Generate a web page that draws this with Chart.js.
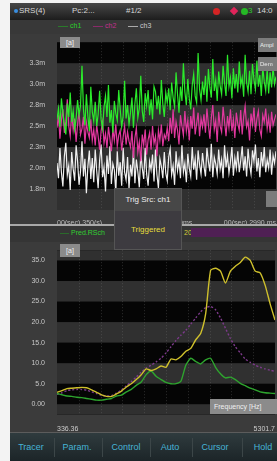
<!DOCTYPE html>
<html>
<head>
<meta charset="utf-8">
<script src="https://cdn.jsdelivr.net/npm/chart.js@4.4.1/dist/chart.umd.min.js"></script>
<style>
body{margin:0;width:277px;height:461px;overflow:hidden;background:#f3f3f3;font-family:"Liberation Sans",Arial,sans-serif;position:relative;}
.abs{position:absolute;}
#status{left:10px;top:3px;width:267px;height:17px;background:linear-gradient(#474747,#1d1d1d);}
#status span{position:absolute;top:3px;font-size:8px;color:#d8d8d8;white-space:nowrap;}
#leg1{left:10px;top:20px;width:267px;height:14px;background:#383838;}
#leg1 span,#leg2 span{position:absolute;font-size:7px;white-space:nowrap;}
#top{left:10px;top:34px;width:267px;height:190px;background:#3b3b3b;}
#sep{left:10px;top:224px;width:267px;height:2px;background:#a9a9a9;}
#leg2{left:10px;top:226px;width:267px;height:16px;background:#353535;}
#bottom{left:10px;top:242px;width:267px;height:190px;background:#3b3b3b;}
#nav{left:10px;top:432px;width:267px;height:29px;background:linear-gradient(#2f3b3e,#1c2528);border-top:1px solid #5c5c5c;box-sizing:border-box;}
#nav span{position:absolute;top:9px;font-size:9px;color:#46b4d6;transform:translateX(-50%);white-space:nowrap;}
#nav i{position:absolute;top:5px;width:1px;height:19px;background:#3c4648;}
.tag{background:#8b8b8b;color:#f0f0f0;font-size:7px;text-align:center;line-height:11px;}
.btn{background:#7c7c7c;color:#eee;font-size:6px;text-align:left;padding-left:2px;box-sizing:border-box;overflow:hidden;white-space:nowrap;}
#popup{left:114px;top:188px;width:68px;height:62px;background:#3d3b40;border:1px solid #555;box-sizing:border-box;}
#popup .a{position:absolute;left:0;top:0;width:66px;height:22px;background:#474747;color:#eee;font-size:8px;line-height:22px;text-align:center;}
#popup .b{position:absolute;left:0;top:36px;width:66px;color:#e6df3c;font-size:8px;text-align:center;}
</style>
</head>
<body>
<div class="abs" id="status">
  <i class="abs" style="left:4px;top:6px;width:4px;height:4px;border-radius:2px;background:#3a8ee0"></i>
  <span style="left:9px">SRS(4)</span>
  <span style="left:62px">Pc:2...</span>
  <span style="left:116px">#1/2</span>
  <i class="abs" style="left:203px;top:5px;width:7px;height:7px;border-radius:4px;background:#d42424"></i>
  <i class="abs" style="left:221px;top:5px;width:6px;height:6px;transform:rotate(45deg);background:#e0245a"></i>
  <i class="abs" style="left:231px;top:5px;width:7px;height:7px;border-radius:4px;background:#25b825"></i>
  <span style="left:238px;color:#2ccc2c">3</span>
  <span style="left:247px">14:0</span>
</div>
<div class="abs" id="leg1">
  <i class="abs" style="left:48px;top:6px;width:10px;height:1px;background:#2a7a2a"></i>
  <span style="left:60px;top:2px;color:#2ad42a">ch1</span>
  <i class="abs" style="left:83px;top:6px;width:10px;height:1px;background:#8a2a6a"></i>
  <span style="left:95px;top:2px;color:#c42f8e">ch2</span>
  <i class="abs" style="left:118px;top:6px;width:10px;height:1px;background:#aaa"></i>
  <span style="left:130px;top:2px;color:#ccc">ch3</span>
</div>
<div class="abs" id="top"><canvas id="c1"></canvas></div>
<div class="abs" id="sep"></div>
<div class="abs" id="leg2">
  <i class="abs" style="left:50px;top:7px;width:9px;height:1px;background:#2a6a2a"></i>
  <span style="left:61px;top:3px;color:#31cf31">Pred.RSch</span>
  <span style="left:174px;top:3px;color:#d6cc3a">20</span>
  <i class="abs" style="left:181px;top:2px;width:86px;height:9px;background:#4f2054"></i>
</div>
<div class="abs" id="bottom"><canvas id="c2"></canvas></div>
<div class="abs tag" style="left:60px;top:37px;width:20px;height:11px">[a]</div>
<div class="abs btn" style="left:258px;top:38px;width:19px;height:14px;line-height:14px">Ampl</div>
<div class="abs btn" style="left:258px;top:57px;width:19px;height:14px;line-height:14px">Dem</div>
<div class="abs btn" style="left:266px;top:191px;width:11px;height:16px"></div>
<div class="abs tag" style="left:60px;top:244px;width:20px;height:13px;line-height:13px">[a]</div>
<div class="abs tag" style="left:210px;top:399px;width:67px;height:15px;line-height:15px;text-align:left;padding-left:4px;box-sizing:border-box">Frequency [Hz]</div>
<div class="abs" id="popup"><div class="a">Trig Src: ch1</div><div class="b">Triggered</div></div>
<div class="abs" id="nav">
  <span style="left:21px">Tracer</span><i style="left:44px"></i>
  <span style="left:67px">Param.</span><i style="left:92px"></i>
  <span style="left:116px">Control</span><i style="left:140px"></i>
  <span style="left:160px">Auto</span><i style="left:182px"></i>
  <span style="left:205px">Cursor</span><i style="left:232px"></i>
  <span style="left:253px">Hold</span>
</div>
<script>
// top trace: three channels (mV)
const ch1 = [2.58,2.71,2.49,2.83,2.66,2.52,2.40,2.77,2.61,2.90,2.55,2.68,2.46,2.59,2.81,2.63,2.74,3.22,2.70,2.51,2.88,2.62,2.44,2.97,2.67,
  2.56,2.79,2.50,2.64,2.92,2.58,2.47,2.73,2.86,2.61,2.99,2.54,2.69,2.42,2.80,2.65,2.57,2.93,2.70,2.49,2.62,3.04,2.59,2.75,2.52,
  2.66,2.84,2.48,2.77,2.95,2.60,2.71,3.10,2.68,2.55,2.89,2.74,2.93,2.63,2.82,2.58,2.97,2.91,2.70,2.86,2.64,3.05,2.76,2.61,2.90,
  2.78,2.95,2.69,3.02,2.84,2.73,3.14,2.88,2.66,2.97,2.80,3.25,2.91,2.75,3.06,2.83,2.70,2.99,3.12,2.86,2.78,3.37,2.94,2.81,3.03,
  2.87,3.10,2.79,3.18,2.96,2.84,3.30,2.92,3.05,2.80,3.15,2.98,2.88,3.22,3.01,2.86,3.35,2.97,3.08,2.83,3.19,2.95,3.12,2.90,3.27,
  2.99,3.08,2.85,3.35,3.02,2.91,3.16,2.88,3.24,3.05,2.94,3.28,2.97,3.11,2.86,3.20,3.03,2.92,3.18,2.89,3.14,2.96,3.21,3.00,3.09];
const ch2 = [2.48,2.63,2.35,2.57,2.70,2.42,2.55,2.82,2.50,2.38,2.66,2.45,2.59,2.31,2.52,2.68,2.40,2.47,2.61,2.29,2.54,2.43,2.36,2.58,2.33,
  2.46,2.27,2.51,2.38,2.22,2.44,2.55,2.30,2.41,2.24,2.49,2.35,2.20,2.46,2.33,2.52,2.26,2.39,2.45,2.21,2.37,2.50,2.28,2.43,2.32,
  2.25,2.44,2.12,2.36,2.48,2.19,2.31,2.08,2.40,2.27,2.46,2.16,2.34,2.42,2.22,2.50,2.29,2.38,2.14,2.45,2.33,2.52,2.26,2.40,2.35,
  2.48,2.32,2.60,2.41,2.70,2.36,2.55,2.45,2.28,2.63,2.50,2.39,2.68,2.44,2.57,2.33,2.62,2.47,2.72,2.40,2.53,2.66,2.38,2.59,2.49,
  2.64,2.42,2.71,2.52,2.35,2.60,2.75,2.46,2.57,2.31,2.67,2.50,2.43,2.73,2.55,2.38,2.62,2.48,2.70,2.44,2.58,2.36,2.66,2.53,2.45,
  2.69,2.40,2.61,2.74,2.49,2.56,2.33,2.65,2.52,2.72,2.43,2.59,2.68,2.46,2.38,2.63,2.55,2.71,2.47,2.60,2.42,2.67,2.51,2.58,2.64];
const ch3 = [2.06,1.88,2.24,1.95,1.78,2.14,2.30,1.92,2.03,1.74,2.19,1.99,1.85,2.27,2.08,1.80,1.96,2.32,1.90,2.11,1.70,2.02,2.21,1.87,2.12,
  1.83,2.22,1.97,1.76,2.09,2.28,1.89,2.01,1.72,2.15,1.93,2.26,1.81,2.05,1.98,1.71,2.20,1.91,2.07,1.79,2.24,1.95,1.86,2.13,1.75,
  2.04,1.90,2.21,1.82,2.10,1.96,1.77,2.18,2.00,1.87,2.24,1.93,1.79,2.08,1.98,2.16,1.84,2.22,1.92,1.76,2.11,2.02,1.88,2.19,1.94,
  1.85,2.13,2.23,1.92,2.03,1.80,2.20,1.97,2.09,1.88,2.27,1.95,2.06,1.83,2.17,2.00,1.90,2.25,1.98,2.11,1.86,2.21,2.04,1.93,2.18,
  2.02,1.90,2.24,2.08,1.96,2.29,1.89,2.13,2.05,1.93,2.22,1.99,2.10,1.88,2.27,2.01,2.15,1.94,2.07,2.25,1.91,2.12,2.00,2.20,1.95,
  2.09,2.26,1.97,2.14,1.90,2.23,2.04,1.93,2.21,2.08,2.28,1.96,2.12,1.89,2.19,2.02,2.25,1.95,2.10,2.00,2.22,1.92,2.15,2.06,2.20];
const topYTicks = [1.5,1.75,2.0,2.25,2.5,2.75,3.0,3.25,3.5];
const topXTicks = [0,75,149];
const topXLabels = ['00(sec) 350(s)','00(sec) 1670ms','00(sec) 2990 ms'];

// bottom spectrum
const freqs = [336.4,449.2,562.1,674.9,787.8,900.6,1013.5,1126.3,1239.2,1352.0,1464.9,1577.7,1690.6,1803.4,1916.3,
  2029.1,2142.0,2254.8,2367.7,2480.5,2593.4,2706.2,2819.1,2931.9,3044.8,3157.6,3270.5,3383.3,3496.2,3609.0,
  3721.9,3834.7,3947.6,4060.4,4173.3,4286.1,4399.0,4511.8,4624.7,4737.5,4850.4,4963.2,5076.1,5188.9,5301.7];
const yellow = [2.9,3.3,3.8,3.9,4.0,4.1,4.0,3.5,2.9,2.3,1.9,1.9,2.5,3.2,4.2,5.0,6.0,7.2,8.6,8.2,8.6,9.3,9.0,11.0,10.8,
  11.6,12.9,13.6,15.7,17.2,22.0,32.6,33.1,32.4,29.5,32.4,33.6,34.5,35.8,35.0,32.4,32.0,29.0,24.5,20.5];
const green = [2.6,2.3,2.0,1.9,1.7,1.6,1.4,1.2,1.0,1.0,1.2,1.4,2.0,2.2,3.0,3.6,4.6,5.4,7.2,8.1,6.8,6.0,5.3,5.0,5.0,
  5.6,9.5,11.2,10.4,9.8,10.8,11.2,9.0,7.4,6.4,6.6,6.0,5.1,4.5,3.9,3.5,3.0,2.8,2.7,2.6];
const purple = [2.4,2.8,3.3,3.5,3.6,3.6,3.4,3.0,2.6,2.2,2.0,2.1,2.7,3.5,4.5,5.5,6.6,7.8,8.8,9.5,10.3,11.2,12.5,14.0,15.5,
  16.8,18.0,19.5,21.0,22.5,23.5,23.8,23.0,21.0,18.5,16.0,14.0,12.5,11.0,10.2,9.5,9.0,8.6,8.3,8.0];
const botYTicks = [-2.5,0,5,10,15,20,25,30,35,37.5];
const botXLabels = ['336.36','5301.7'];

// striped plot background, like the scope screen
const bands = {
  id: 'bands',
  beforeDatasetsDraw(chart) {
    const {ctx, chartArea: a, scales: {y}} = chart;
    ctx.save();
    ctx.fillStyle = '#050505';
    ctx.fillRect(a.left, a.top, a.width, a.height);
    const t = y.ticks.map(k => k.value);
    ctx.fillStyle = '#303030';
    for (let i = 0; i < t.length - 1; i += 2) {
      const y0 = y.getPixelForValue(t[i]), y1 = y.getPixelForValue(t[i + 1]);
      ctx.fillRect(a.left, y1, a.width, y0 - y1);
    }
    ctx.strokeStyle = 'rgba(120,120,120,0.35)';
    ctx.setLineDash([1, 2]);
    for (let k = 1; k < 10; k++) {
      const x = Math.round(a.left + a.width * k / 10) + 0.5;
      ctx.beginPath(); ctx.moveTo(x, a.top); ctx.lineTo(x, a.bottom); ctx.stroke();
    }
    ctx.restore();
  }
};

const tickFont = {family: '"Liberation Sans", Arial, sans-serif', size: 7};

function trace(label, arr, color) {
  return {label: label, data: arr.map((v, i) => ({x: i, y: v})), borderColor: color,
    borderWidth: 1.2, pointRadius: 0, tension: 0};
}

new Chart(document.getElementById('c1'), {
  type: 'line',
  data: {datasets: [trace('ch1', ch1, '#2bea2b'), trace('ch2', ch2, '#e0389e'), trace('ch3', ch3, '#f0f0f0')]},
  options: {
    animation: false, responsive: true, maintainAspectRatio: false,
    layout: {padding: {top: 4}},
    plugins: {legend: {display: false}, tooltip: {enabled: false}},
    scales: {
      x: {type: 'linear', min: 0, max: ch1.length - 1,
        afterBuildTicks: s => { s.ticks = topXTicks.map(v => ({value: v})); },
        afterFit: s => { s.height = 14; },
        grid: {display: false}, border: {display: false},
        ticks: {autoSkip: false, maxRotation: 0, align: 'inner', padding: 1, color: '#bdbdbd', font: tickFont,
          callback: (v, i) => topXLabels[i]}},
      y: {min: 1.5, max: 3.5,
        afterBuildTicks: s => { s.ticks = topYTicks.map(v => ({value: v})); },
        afterFit: s => { s.width = 47; },
        grid: {display: false}, border: {display: false},
        ticks: {padding: 4, color: '#c8c8c8', font: tickFont,
          callback: v => (v === 1.5 || v === 3.5) ? '' : v.toFixed(1) + 'm'}}
    }
  },
  plugins: [bands]
});

function spec(label, arr, color, dash) {
  return {label: label, data: arr.map((v, i) => ({x: freqs[i], y: v})), borderColor: color,
    borderWidth: 1.4, borderDash: dash, pointRadius: 0, tension: 0.2};
}

new Chart(document.getElementById('c2'), {
  type: 'line',
  data: {datasets: [spec('20', yellow, '#cfc02c', []), spec('Pred.RSch', green, '#2ea52e', []),
    spec('ref', purple, '#7e3a8c', [2, 2])]},
  options: {
    animation: false, responsive: true, maintainAspectRatio: false,
    layout: {padding: {top: 3.5}},
    plugins: {legend: {display: false}, tooltip: {enabled: false}},
    scales: {
      x: {type: 'linear', min: freqs[0], max: freqs[freqs.length - 1],
        afterBuildTicks: s => { s.ticks = [freqs[0], freqs[freqs.length - 1]].map(v => ({value: v})); },
        afterFit: s => { s.height = 17.5; },
        grid: {display: false}, border: {display: false},
        ticks: {autoSkip: false, maxRotation: 0, align: 'inner', padding: 2, color: '#cdcdcd', font: tickFont,
          callback: (v, i) => botXLabels[i]}},
      y: {min: -2.5, max: 37.5,
        afterBuildTicks: s => { s.ticks = botYTicks.map(v => ({value: v})); },
        afterFit: s => { s.width = 47; },
        grid: {display: false}, border: {display: false},
        ticks: {padding: 4, color: '#c8c8c8', font: tickFont,
          callback: v => (v === -2.5 || v === 37.5) ? '' : (v === 0 ? '0.00' : v.toFixed(1))}}
    }
  },
  plugins: [bands]
});
</script>
</body>
</html>
